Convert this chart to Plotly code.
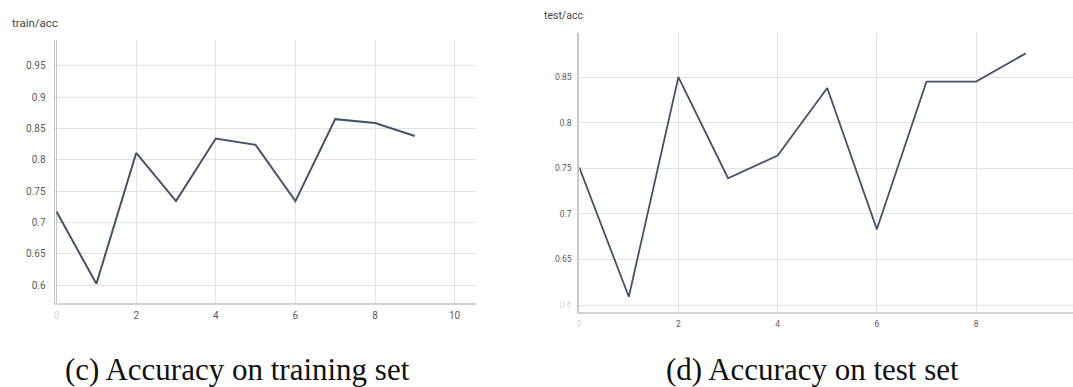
import plotly.graph_objects as go

# ---------------- data ----------------
epochs = [0, 1, 2, 3, 4, 5, 6, 7, 8, 9]
train_acc = [0.717, 0.602, 0.811, 0.734, 0.834, 0.824, 0.734, 0.865, 0.859, 0.838]
test_acc = [0.751, 0.609, 0.850, 0.739, 0.764, 0.838, 0.683, 0.845, 0.845, 0.876]

train_yticks = [0.6, 0.65, 0.7, 0.75, 0.8, 0.85, 0.9, 0.95]
train_ylabels = ["0.6", "0.65", "0.7", "0.75", "0.8", "0.85", "0.9", "0.95"]
test_yticks = [0.6, 0.65, 0.7, 0.75, 0.8, 0.85]
test_ylabels = ["0.6", "0.65", "0.7", "0.75", "0.8", "0.85"]
x_ticks = [0, 2, 4, 6, 8, 10]
x_labels = ["0", "2", "4", "6", "8", "10"]

panel_titles = ["train/acc", "test/acc"]
captions = ["(c) Accuracy on training set", "(d) Accuracy on test set"]

# ---------------- layout helpers ----------------
W, H = 1073, 387
LINE = "#465267"
FAINT = "#d6d6d6"


def px_x(p):
    return p / W


def px_y(p):
    return 1 - p / H


def faint_first(labels):
    return ['<span style="color:%s">%s</span>' % (FAINT, labels[0])] + labels[1:]


fig = go.Figure()
fig.add_trace(go.Scatter(x=epochs, y=train_acc, mode="lines",
                         line=dict(color=LINE, width=2), xaxis="x", yaxis="y",
                         showlegend=False))
fig.add_trace(go.Scatter(x=epochs, y=test_acc, mode="lines",
                         line=dict(color=LINE, width=1.8), xaxis="x2", yaxis="y2",
                         showlegend=False))

tick_font_l = dict(family="Roboto, Arial, sans-serif", size=10, color="#5a5a5a")
tick_font_r = dict(family="Roboto, Arial, sans-serif", size=8.5, color="#5a5a5a")

fig.update_layout(
    width=W, height=H,
    margin=dict(l=0, r=0, t=0, b=0),
    paper_bgcolor="white", plot_bgcolor="white",
    xaxis=dict(domain=[px_x(52.7), px_x(475)], range=[-0.05, 10.54],
               tickvals=x_ticks, ticktext=faint_first(x_labels),
               showgrid=True, gridcolor="#e2e2e2", gridwidth=1,
               zeroline=True, zerolinecolor="#c4c4c4", zerolinewidth=1,
               showline=True, linecolor="#d2d2d2", linewidth=2,
               ticks="", ticklabelstandoff=2, tickfont=tick_font_l, anchor="y"),
    yaxis=dict(domain=[px_y(303.3), px_y(40)], range=[0.5708, 0.9915],
               tickvals=train_yticks, ticktext=train_ylabels,
               showgrid=True, gridcolor="#e2e2e2", gridwidth=1, zeroline=False,
               showline=True, linecolor="#c4c4c4", linewidth=1,
               ticks="", ticklabelstandoff=6, tickfont=tick_font_l, anchor="x"),
    xaxis2=dict(domain=[px_x(578.3), 1], range=[0, 9.954],
                tickvals=x_ticks, ticktext=faint_first(x_labels),
                showgrid=True, gridcolor="#e2e2e2", gridwidth=1, zeroline=False,
                showline=True, linecolor="#d2d2d2", linewidth=2,
                ticks="", ticklabelstandoff=2, tickfont=tick_font_r, anchor="y2"),
    yaxis2=dict(domain=[px_y(312.3), px_y(33.3)], range=[0.592, 0.898],
                tickvals=test_yticks, ticktext=faint_first(test_ylabels),
                showgrid=True, gridcolor="#e2e2e2", gridwidth=1, zeroline=False,
                showline=True, linecolor="#c8c8c8", linewidth=2,
                ticks="", ticklabelstandoff=4, tickfont=tick_font_r, anchor="x2"),
)

# panel titles
fig.add_annotation(text=panel_titles[0], xref="paper", yref="paper",
                   x=px_x(8), y=px_y(23.3), xanchor="left", yanchor="middle",
                   showarrow=False,
                   font=dict(family="Roboto, Arial, sans-serif", size=11.5, color="#444"))
fig.add_annotation(text=panel_titles[1], xref="paper", yref="paper",
                   x=px_x(541.5), y=px_y(15.7), xanchor="left", yanchor="middle",
                   showarrow=False,
                   font=dict(family="Roboto, Arial, sans-serif", size=10.5, color="#444"))

# captions
cap_font = dict(family="Liberation Serif, Times New Roman, serif", size=31, color="#111")
fig.add_annotation(text=captions[0], xref="paper", yref="paper",
                   x=px_x(236), y=0, xanchor="center", yanchor="bottom", yshift=-2,
                   showarrow=False, font=cap_font)
fig.add_annotation(text=captions[1], xref="paper", yref="paper",
                   x=px_x(812), y=0, xanchor="center", yanchor="bottom", yshift=-2,
                   showarrow=False, font=cap_font)

fig.write_html("out.html", config={"displayModeBar": False},
               post_script="document.body.style.margin='0';document.body.style.overflow='hidden';")
